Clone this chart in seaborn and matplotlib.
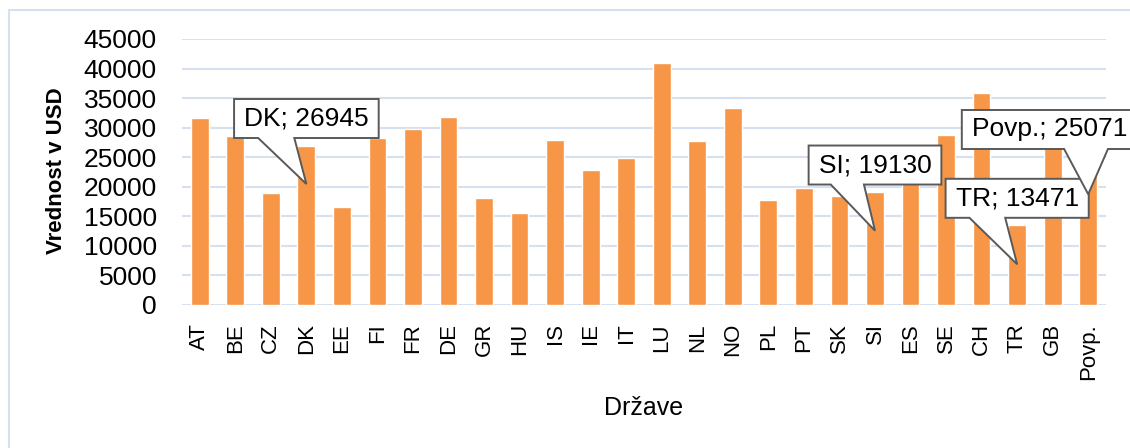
import matplotlib
matplotlib.use('Agg')
import matplotlib.pyplot as plt
import seaborn as sns
from matplotlib.patches import Polygon, Rectangle

countries = ['AT', 'BE', 'CZ', 'DK', 'EE', 'FI', 'FR', 'DE', 'GR', 'HU', 'IS',
             'IE', 'IT', 'LU', 'NL', 'NO', 'PL', 'PT', 'SK', 'SI', 'ES', 'SE',
             'CH', 'TR', 'GB', 'Povp.']
values = [31600, 28650, 18900, 26945, 16500, 28200, 29700, 31850, 18050, 15600,
          27850, 22850, 24950, 40900, 27700, 33350, 17750, 19800, 18450, 19130,
          22000, 28750, 35800, 13471, 28000, 25071]
yticks = [0, 5000, 10000, 15000, 20000, 25000, 30000, 35000, 40000, 45000]

# callouts: country, box centre offset (bars), box centre y, pointer tip y, wedge side
callouts = [
    ('DK', 0.0, 31550, 20470, 'left'),
    ('SI', 0.0, 23680, 12570, 'left'),
    ('TR', 0.0, 18050, 6885, 'left'),
    ('Povp.', -1.09, 29690, 18730, 'right'),
]

BAR = '#F79646'
GRID = '#D6E0F0'
EDGE = '#595959'

sns.set_style('white')
plt.rcParams['font.family'] = ['Liberation Sans', 'DejaVu Sans']
plt.rcParams['text.color'] = 'black'
plt.rcParams['axes.labelcolor'] = 'black'
plt.rcParams['xtick.color'] = 'black'
plt.rcParams['ytick.color'] = 'black'

fig = plt.figure(figsize=(11.3, 4.48), dpi=100)
ax = fig.add_axes([0.16106, 0.31920, 0.81770, 0.59375])

sns.barplot(x=countries, y=values, color=BAR, saturation=1, width=0.5, ax=ax,
            zorder=2)

ax.set_ylim(0, 45000)
ax.set_xlim(-0.5, len(countries) - 0.5)
ax.set_yticks(yticks)
ax.set_yticklabels([str(t) for t in yticks])
ax.yaxis.grid(True, color=GRID, linewidth=1.5, zorder=0)
ax.set_axisbelow(True)
for s in ax.spines.values():
    s.set_visible(False)
ax.tick_params(axis='y', labelsize=19, length=0, pad=18)
ax.tick_params(axis='x', labelsize=16, length=0, pad=13, labelrotation=90)
for lab in ax.get_xticklabels():
    lab.set_va('top')

ax.set_ylabel('Vrednost v USD', fontsize=16, fontweight='bold', va='center')
ax.yaxis.set_label_coords(-0.1353, 0.5056)
ax.set_xlabel('Države', fontsize=18, va='center')
ax.xaxis.set_label_coords((644 - 182) / 924, -0.387)

# light outer frame of the chart area
fig.patches.append(Rectangle((9 / 1130, -0.1), 1.2, 1.1 - 10 / 448,
                             transform=fig.transFigure, fill=False,
                             edgecolor=GRID, linewidth=1.5))

# callout labels
texts = []
for name, dx, by, ty, side in callouts:
    i = countries.index(name)
    t = ax.text(i + dx, by, '{}; {}'.format(name, values[i]), ha='center',
                va='center', fontsize=19, zorder=6)
    texts.append(t)

fig.canvas.draw()
renderer = fig.canvas.get_renderer()
inv = ax.transData.inverted()
for t, (name, dx, by, ty, side) in zip(texts, callouts):
    i = countries.index(name)
    ext = t.get_window_extent(renderer)
    cx, cy = ax.transData.transform((i + dx, by))
    tx, tyd = ax.transData.transform((i, ty))
    hw = ext.width / 2 + 10
    hh = 19.5
    x0, x1 = cx - hw, cx + hw
    y0, y1 = cy - hh, cy + hh
    w = x1 - x0
    if side == 'left':
        b0, b1 = x0 + w / 6, x0 + w * 5 / 12
    else:
        b0, b1 = x0 + w * 7 / 12, x0 + w * 5 / 6
    pts = [(x0, y1), (x1, y1), (x1, y0), (b1, y0), (tx, tyd), (b0, y0),
           (x0, y0)]
    pts = [inv.transform(p) for p in pts]
    ax.add_patch(Polygon(pts, closed=True, facecolor='white', edgecolor=EDGE,
                         linewidth=1.4, zorder=5, clip_on=False))

fig.savefig('out.png', dpi=100)
